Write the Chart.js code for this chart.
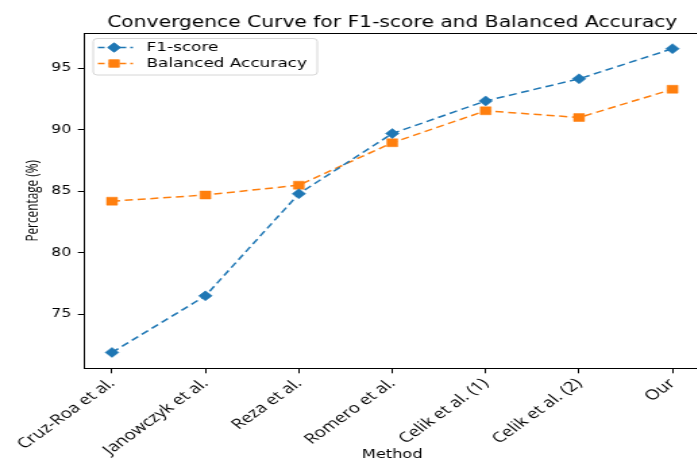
<!DOCTYPE html>
<html>
<head>
<meta charset="utf-8">
<script src="https://cdn.jsdelivr.net/npm/chart.js@4.4.1/dist/chart.umd.min.js"></script>
<style>
  html, body { margin: 0; padding: 0; width: 697px; height: 462px; overflow: hidden; background: #fff; }
  #wrap { width: 525px; height: 462px; transform: scaleX(1.35); transform-origin: 0 0; position: relative; }
</style>
</head>
<body>
<div id="wrap"><canvas id="c"></canvas></div>
<script>
const chartTitle = 'Convergence Curve for F1-score and Balanced Accuracy';
const xTitle = 'Method';
const yTitle = 'Percentage (%)';
const categories = ['Cruz-Roa et al.', 'Janowczyk et al.', 'Reza et al.', 'Romero et al.', 'Celik et al. (1)', 'Celik et al. (2)', 'Our'];
const f1Score = [71.9, 76.5, 84.8, 89.7, 92.35, 94.15, 96.6];
const balancedAccuracy = [84.2, 84.7, 85.5, 88.95, 91.55, 91.0, 93.3];
const yTicks = [75, 80, 85, 90, 95];
const seriesNames = ['F1-score', 'Balanced Accuracy'];
const seriesColors = ['#1f77b4', '#ff7f0e'];
const seriesMarkers = ['rectRot', 'rect'];

const toPoints = arr => arr.map((v, i) => ({ x: i, y: v }));

const decor = {
  id: 'decor',
  afterDraw(chart) {
    const { ctx, chartArea: a } = chart;
    ctx.save();
    ctx.strokeStyle = '#000';
    ctx.lineWidth = 1;
    ctx.setLineDash([]);
    ctx.strokeRect(Math.round(a.left) + 0.5, Math.round(a.top) + 0.5, a.right - a.left + 5, Math.round(a.bottom) - Math.round(a.top));
    ctx.fillStyle = '#000';
    ctx.font = '15px "DejaVu Sans"';
    ctx.textAlign = 'center';
    ctx.textBaseline = 'alphabetic';
    ctx.fillText(chartTitle, (a.left + a.right) / 2, 27);
    const bx = 69, by = 38.5, bw = 166, bh = 36.5, r = 3;
    ctx.beginPath();
    ctx.moveTo(bx + r, by);
    ctx.arcTo(bx + bw, by, bx + bw, by + bh, r);
    ctx.arcTo(bx + bw, by + bh, bx, by + bh, r);
    ctx.arcTo(bx, by + bh, bx, by, r);
    ctx.arcTo(bx, by, bx + bw, by, r);
    ctx.closePath();
    ctx.fillStyle = 'rgba(255,255,255,0.8)';
    ctx.fill();
    ctx.strokeStyle = '#d6d6d6';
    ctx.lineWidth = 1;
    ctx.stroke();
    const rows = [47.5, 63.5];
    for (let i = 0; i < 2; i++) {
      const y = rows[i];
      ctx.strokeStyle = seriesColors[i];
      ctx.lineWidth = 1.5;
      ctx.setLineDash([5, 3]);
      ctx.beginPath();
      ctx.moveTo(72.5, y);
      ctx.lineTo(98.5, y);
      ctx.stroke();
      ctx.setLineDash([]);
      ctx.fillStyle = seriesColors[i];
      Chart.helpers.drawPoint(ctx, { pointStyle: seriesMarkers[i], radius: i === 0 ? 5 : 5.6, rotation: 0, borderWidth: 0 }, 84.5, y);
      ctx.fill();
      ctx.fillStyle = '#000';
      ctx.font = '12.5px "DejaVu Sans"';
      ctx.textAlign = 'left';
      ctx.textBaseline = 'middle';
      ctx.fillText(seriesNames[i], 108.5, y + 0.5);
    }
    ctx.restore();
  }
};

new Chart(document.getElementById('c'), {
  type: 'line',
  data: {
    datasets: [
      {
        label: seriesNames[0],
        data: toPoints(f1Score),
        borderColor: seriesColors[0],
        backgroundColor: seriesColors[0],
        borderWidth: 1.5,
        borderDash: [6, 3.5],
        pointStyle: seriesMarkers[0],
        pointRadius: 5,
        pointBorderWidth: 0.5,
        pointBorderColor: seriesColors[0],
        pointBackgroundColor: seriesColors[0],
        tension: 0,
        fill: false
      },
      {
        label: seriesNames[1],
        data: toPoints(balancedAccuracy),
        borderColor: seriesColors[1],
        backgroundColor: seriesColors[1],
        borderWidth: 1.5,
        borderDash: [6, 3.5],
        pointStyle: seriesMarkers[1],
        pointRadius: 5.6,
        pointBorderWidth: 0.5,
        pointBorderColor: seriesColors[1],
        pointBackgroundColor: seriesColors[1],
        tension: 0,
        fill: false
      }
    ]
  },
  options: {
    responsive: true,
    maintainAspectRatio: false,
    animation: false,
    devicePixelRatio: 1,
    layout: { padding: { top: 33.3, left: 0, right: 0, bottom: 0 } },
    plugins: {
      legend: { display: false },
      title: { display: false },
      tooltip: { enabled: false }
    },
    scales: {
      x: {
        type: 'linear',
        min: -0.3,
        max: 6.3,
        afterBuildTicks: s => { s.ticks = categories.map((_, i) => ({ value: i })); },
        afterFit: s => { s.height = 93.7; },
        border: { display: false },
        grid: { drawOnChartArea: false, drawTicks: true, tickLength: 5, tickColor: '#000', tickWidth: 1 },
        ticks: {
          autoSkip: false,
          minRotation: 44,
          maxRotation: 44,
          padding: 2,
          color: '#000',
          font: { family: '"Open Sans"', size: 14 },
          callback: v => categories[v]
        },
        title: {
          display: true,
          text: xTitle,
          color: '#000',
          font: { family: '"DejaVu Sans"', size: 12, lineHeight: 1.2 },
          padding: { top: 0, bottom: 0 }
        }
      },
      y: {
        type: 'linear',
        min: 70.61,
        max: 97.85,
        afterBuildTicks: s => { s.ticks = yTicks.map(v => ({ value: v })); },
        afterFit: s => { s.width = 62.2; },
        border: { display: false },
        grid: { drawOnChartArea: false, drawTicks: true, tickLength: 4.5, tickColor: '#000', tickWidth: 1 },
        ticks: {
          padding: 5,
          color: '#000',
          font: { family: '"DejaVu Sans"', size: 11.5 }
        },
        title: {
          display: true,
          text: yTitle,
          color: '#000',
          font: { family: '"Open Sans"', size: 11.8, lineHeight: 1.2 },
          padding: { top: 17.9, bottom: 0 }
        }
      }
    }
  },
  plugins: [decor]
});
</script>
</body>
</html>
